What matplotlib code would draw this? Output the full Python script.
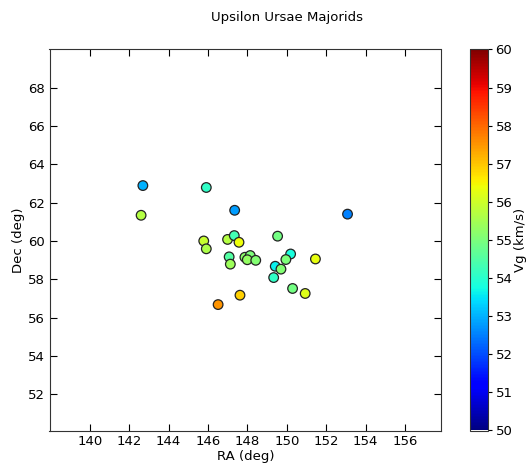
import numpy as np
import matplotlib
matplotlib.use("Agg")
import matplotlib.pyplot as plt

# Upsilon Ursae Majorids radiants
ra = [142.69, 142.60, 145.91, 147.35, 153.08,
      145.78, 145.91, 146.99, 147.33, 147.57, 149.53, 147.07, 147.13,
      147.87, 148.14, 147.99, 148.42,
      149.41, 149.70, 149.33, 150.19, 149.95, 151.45, 150.29, 150.93,
      146.51, 147.62]
dec = [62.90, 61.35, 62.80, 61.61, 61.41,
       60.01, 59.60, 60.09, 60.29, 59.94, 60.26, 59.18, 58.80,
       59.16, 59.25, 59.03, 59.00,
       58.69, 58.54, 58.10, 59.33, 59.04, 59.07, 57.53, 57.27,
       56.69, 57.18]
vg = [53.0, 55.7, 54.1, 52.8, 52.5,
      55.9, 55.6, 55.7, 54.3, 56.4, 54.9, 54.5, 55.4,
      55.2, 55.0, 55.3, 55.1,
      53.6, 55.1, 54.1, 53.8, 55.0, 56.3, 54.9, 56.2,
      57.5, 56.9]

W, H = 527, 467
fig = plt.figure(figsize=(W / 100, H / 100), dpi=100)
ax = fig.add_axes([49.5 / W, 1 - 430.5 / H, 392 / W, 381 / H])
cax = fig.add_axes([469.5 / W, 1 - 430.5 / H, 19 / W, 381 / H])

sc = ax.scatter(ra, dec, c=vg, cmap="jet", vmin=50, vmax=60, s=48,
                edgecolors="#222222", linewidths=0.9, zorder=3)

ax.set_xlim(137.95, 157.85)
ax.set_ylim(50.12, 70.0)
ax.set_xticks(np.arange(140, 157, 2))
ax.set_yticks(np.arange(52, 69, 2))
ax.tick_params(direction="in", top=True, right=True, length=5, labelsize=9.5)
for s in ax.spines.values():
    s.set_color("#333333")
ax.set_xlabel("RA (deg)", fontsize=9.5, labelpad=1)
ax.set_ylabel("Dec (deg)", fontsize=9.5, labelpad=2)

cb = fig.colorbar(sc, cax=cax)
cb.set_ticks(np.arange(50, 61, 1))
cb.ax.tick_params(labelsize=9.5, length=3, pad=2)
cb.outline.set_edgecolor("#333333")
cb.set_label("Vg (km/s)", fontsize=9.5, labelpad=1)

fig.text(287 / W, 1 - 17 / H, "Upsilon Ursae Majorids", ha="center", va="center",
         fontsize=9.5)

fig.savefig("out.png", dpi=100)
